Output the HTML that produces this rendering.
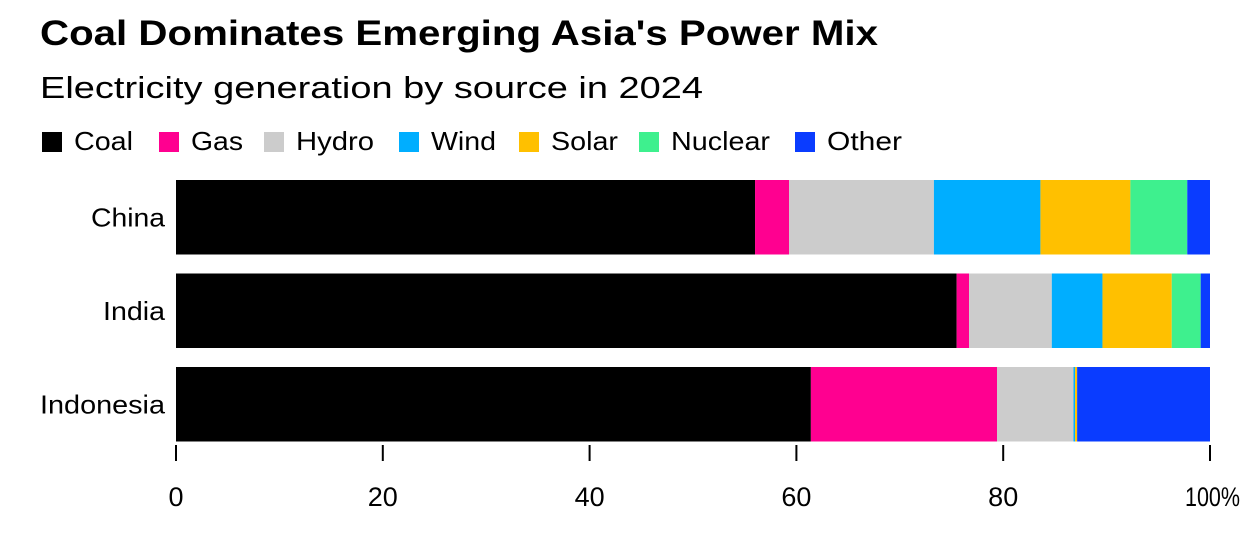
<!DOCTYPE html>
<html><head><meta charset="utf-8">
<style>
body{margin:0;background:#fff;font-family:"Liberation Sans",Arial,sans-serif;}
svg text{font-family:"Liberation Sans",Arial,sans-serif;}
</style></head>
<body>
<svg width="1255" height="528">
<text x="40" y="45" font-size="35" font-weight="bold" fill="#000" textLength="838" lengthAdjust="spacingAndGlyphs">Coal Dominates Emerging Asia's Power Mix</text>
<text x="40" y="98" font-size="31" fill="#000" textLength="663" lengthAdjust="spacingAndGlyphs">Electricity generation by source in 2024</text>
<g id="legend"></g>
<g id="bars"></g>
<g id="axis"></g>
</svg>
<script>
const categories=["China","India","Indonesia"];
const sources=["Coal","Gas","Hydro","Wind","Solar","Nuclear","Other"];
const colors=["#000000","#ff0090","#cccccc","#00aeff","#ffc000","#3ef08e","#0a3cff"];
const coal=[56.0,75.5,61.4];
const gas=[3.3,1.2,18.0];
const hydro=[14.0,8.0,7.4];
const wind=[10.3,4.9,0.15];
const solar=[8.7,6.7,0.2];
const nuclear=[5.5,2.8,0];
const other=[2.2,0.9,12.85];
const ticks=[0,20,40,60,80,100];
const series=[coal,gas,hydro,wind,solar,nuclear,other];
const NS="http://www.w3.org/2000/svg";
const x0=176,x1=1210;
const xs=v=>x0+(x1-x0)*v/100;
const bandTop=180,bandStep=93.5,barH=74.5;
function mk(tag,attrs,parent){const e=document.createElementNS(NS,tag);for(const k in attrs)e.setAttribute(k,attrs[k]);parent.appendChild(e);return e;}
const lg=document.getElementById('legend');
const lx=[40,157,262,397,517,637,793];
const lw=[59,52,78,65,67,99,75];
sources.forEach((s,i)=>{
 const r=mk('rect',{x:lx[i]+2,y:132,width:20,height:20,fill:colors[i]},lg);
 
 
 const t=mk('text',{x:lx[i]+34,y:150,'font-size':26,fill:'#000',textLength:lw[i],lengthAdjust:'spacingAndGlyphs'},lg);
 t.textContent=s;
 
 
});
const bg=document.getElementById('bars');
const cw=[74,62,125];
categories.forEach((c,ci)=>{
 const y=bandTop+ci*bandStep;
 let acc=0;
 series.forEach((arr,si)=>{
  const v=arr[ci];
  if(v>0){
   const r=mk('rect',{x:xs(acc),y:y,width:xs(acc+v)-xs(acc),height:barH,fill:colors[si]},bg);
   
   
  }
  acc+=v;
 });
 const t=mk('text',{x:165-cw[ci],y:y+barH/2+9,'font-size':26,fill:'#000',textLength:cw[ci],lengthAdjust:'spacingAndGlyphs'},bg);
 t.textContent=c;
 
 
});
const ax=document.getElementById('axis');
ticks.forEach(v=>{
 const l=mk('line',{x1:xs(v),x2:xs(v),y1:445,y2:461,stroke:'#000','stroke-width':2},ax);
 
 
 const attrs=v===100?{x:1185,y:506,'font-size':27,'text-anchor':'start',fill:'#000',textLength:55,lengthAdjust:'spacingAndGlyphs'}:{x:xs(v),y:506,'font-size':27,'text-anchor':'middle',fill:'#000'};
 const t=mk('text',attrs,ax);
 t.textContent=v===100?'100%':String(v);
 
 
});
</script>
</body></html>
